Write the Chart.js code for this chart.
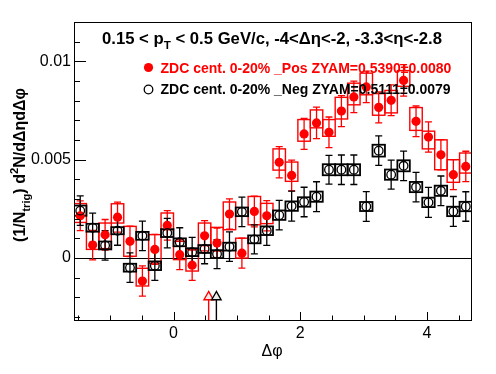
<!DOCTYPE html>
<html>
<head>
<meta charset="utf-8">
<script src="https://cdn.jsdelivr.net/npm/chart.js@4.4.1/dist/chart.umd.min.js"></script>
<style>
  html, body { margin: 0; padding: 0; background: #fff; }
  #wrap { width: 496px; height: 374px; }
</style>
</head>
<body>
<div id="wrap"><canvas id="chart" width="496" height="374"></canvas></div>
<script>
// Delta-phi correlation, 32 bins over [-pi/2, 3pi/2]
const binCenters = [
  -1.4726, -1.2763, -1.0799, -0.8836, -0.6872, -0.4909, -0.2945, -0.0982,
   0.0982,  0.2945,  0.4909,  0.6872,  0.8836,  1.0799,  1.2763,  1.4726,
   1.6690,  1.8653,  2.0617,  2.2580,  2.4544,  2.6507,  2.8471,  3.0434,
   3.2398,  3.4361,  3.6325,  3.8288,  4.0252,  4.2215,  4.4179,  4.6142
];
const binHalfWidth = 0.0982;

// ZDC cent. 0-20% _Pos (red, filled)
const posValues = [
  0.00215, 0.00066, 0.00118, 0.00208, 0.00085, -0.00117, 0.00044, 0.00166,
  0.00017, -0.00036, 0.00113, 0.00076, 0.00224, 0.00025, 0.00237, 0.00215,
  0.00487, 0.00420, 0.00631, 0.00687, 0.00639, 0.00747, 0.00819, 0.00870,
  0.00766, 0.00802, 0.00903, 0.00695, 0.00615, 0.00525, 0.00424, 0.00466
];
const posErr = [
  0.00076, 0.00075, 0.00078, 0.00076, 0.00077, 0.00077, 0.00076, 0.00075,
  0.00076, 0.00077, 0.00077, 0.00076, 0.00077, 0.00076, 0.00078, 0.00077,
  0.00079, 0.00078, 0.00079, 0.00080, 0.00078, 0.00079, 0.00080, 0.00080,
  0.00079, 0.00078, 0.00080, 0.00078, 0.00077, 0.00077, 0.00076, 0.00077
];
const posSysUp = [
  0.00062, 0.00070, 0.00060, 0.00068, 0.00076, 0.00065, 0.00075, 0.00063,
  0.00068, 0.00080, 0.00065, 0.00080, 0.00061, 0.00076, 0.00076, 0.00063,
  0.00068, 0.00068, 0.00073, 0.00066, 0.00065, 0.00070, 0.00070, 0.00070,
  0.00070, 0.00050, 0.00050, 0.00070, 0.00030, 0.00076, 0.00076, 0.00068
];
const posSysDown = [
  0.00034, 0.00022, 0.00070, 0.00030, 0.00076, 0.00025, 0.00070, 0.00022,
  0.00025, 0.00030, 0.00050, 0.00040, 0.00080, 0.00025, 0.00068, 0.00040,
  0.00040, 0.00030, 0.00037, 0.00025, 0.00020, 0.00040, 0.00040, 0.00040,
  0.00040, 0.00064, 0.00030, 0.00046, 0.00060, 0.00076, 0.00039, 0.00034
];

// ZDC cent. 0-20% _Neg (black, open)
const negValues = [
  0.00241, 0.00154, 0.00064, 0.00139, -0.00049, 0.00113, -0.00039, 0.00127,
  0.00080, 0.00030, 0.00046, 0.00020, 0.00058, 0.00235, 0.00095, 0.00139,
  0.00218, 0.00264, 0.00285, 0.00312, 0.00449, 0.00449, 0.00449, 0.00262,
  0.00546, 0.00424, 0.00469, 0.00361, 0.00283, 0.00342, 0.00237, 0.00262
];
const negErr = [
  0.00075, 0.00074, 0.00075, 0.00074, 0.00075, 0.00075, 0.00074, 0.00075,
  0.00074, 0.00075, 0.00075, 0.00074, 0.00075, 0.00075, 0.00074, 0.00075,
  0.00075, 0.00076, 0.00075, 0.00076, 0.00073, 0.00075, 0.00075, 0.00076,
  0.00075, 0.00074, 0.00075, 0.00075, 0.00076, 0.00075, 0.00076, 0.00075
];
const negSys = [
  0.00026, 0.00020, 0.00020, 0.00018, 0.00020, 0.00020, 0.00022, 0.00020,
  0.00020, 0.00020, 0.00020, 0.00020, 0.00020, 0.00022, 0.00020, 0.00022,
  0.00024, 0.00024, 0.00024, 0.00026, 0.00028, 0.00028, 0.00028, 0.00023,
  0.00030, 0.00026, 0.00028, 0.00026, 0.00024, 0.00026, 0.00024, 0.00024
];

// ZYAM minimum position markers
const zyamPosX = [0.555, 0.677];
const zyamColors = ['#ff0000', '#000000'];

// axis ticks
const xTickValues = [0, 2, 4];
const yTickValues = [0, 0.005, 0.01];
const yTickLabels = ['0', '0.005', '0.01'];

const titleParts = [['0.15 < p', ''], ['T', 'sub'], [' < 0.5 GeV/c, -4<\u0394\u03b7<-2, -3.3<\u03b7<-2.8', '']];
const legendLabels = [
  'ZDC cent. 0-20% _Pos ZYAM=0.5390\u00b10.0080',
  'ZDC cent. 0-20% _Neg ZYAM=0.5111\u00b10.0079'
];

const FONT = '"Liberation Sans", Arial, Helvetica, sans-serif';

function richWidth(ctx, parts, size, weight) {
  let w = 0;
  parts.forEach(([t, m]) => {
    ctx.font = `${weight} ${m ? size * 0.7 : size}px ${FONT}`;
    w += ctx.measureText(t).width;
  });
  return w;
}

function drawRich(ctx, parts, x, y, size, weight) {
  let cx = x;
  parts.forEach(([t, m]) => {
    ctx.font = `${weight} ${m ? size * 0.7 : size}px ${FONT}`;
    const dy = m === 'sub' ? size * 0.32 : (m === 'sup' ? -size * 0.42 : 0);
    ctx.fillText(t, cx, y + dy);
    cx += ctx.measureText(t).width;
  });
}

function drawSeriesDecor(ctx, xs, ys, vals, err, up, down, color, lw) {
  ctx.save();
  ctx.strokeStyle = color;
  ctx.lineWidth = lw;
  // systematic boxes
  vals.forEach((v, i) => {
    const x0 = xs.getPixelForValue(binCenters[i] - binHalfWidth);
    const x1 = xs.getPixelForValue(binCenters[i] + binHalfWidth);
    const yt = ys.getPixelForValue(v + up[i]);
    const yb = ys.getPixelForValue(v - down[i]);
    ctx.strokeRect(x0, yt, x1 - x0, yb - yt);
  });
  // statistical error bars with end caps
  ctx.lineWidth = 1.3;
  vals.forEach((v, i) => {
    const x = xs.getPixelForValue(binCenters[i]);
    const yt = ys.getPixelForValue(v + err[i]);
    const yb = ys.getPixelForValue(v - err[i]);
    ctx.beginPath();
    ctx.moveTo(x, yt); ctx.lineTo(x, yb);
    ctx.moveTo(x - 3.5, yt); ctx.lineTo(x + 3.5, yt);
    ctx.moveTo(x - 3.5, yb); ctx.lineTo(x + 3.5, yb);
    ctx.stroke();
  });
  ctx.restore();
}

const rootDecor = {
  id: 'rootDecor',
  beforeDatasetsDraw(chart) {
    const { ctx, chartArea: a, scales: { x, y } } = chart;
    ctx.save();
    ctx.beginPath();
    ctx.rect(a.left, a.top, a.right - a.left, a.bottom - a.top);
    ctx.clip();
    // zero line
    const y0 = Math.round(y.getPixelForValue(0)) + 0.5;
    ctx.strokeStyle = '#000';
    ctx.lineWidth = 1;
    ctx.beginPath();
    ctx.moveTo(a.left, y0); ctx.lineTo(a.right, y0);
    ctx.stroke();
    drawSeriesDecor(ctx, x, y, posValues, posErr, posSysUp, posSysDown, '#ff0000', 1.4);
    drawSeriesDecor(ctx, x, y, negValues, negErr, negSys, negSys, '#000000', 1.8);
    ctx.restore();
  },
  afterDatasetsDraw(chart) {
    const { ctx, chartArea: a, scales: { x, y } } = chart;
    ctx.save();
    // ZYAM arrows
    zyamPosX.forEach((v, i) => {
      const px = x.getPixelForValue(v);
      const apex = y.getPixelForValue(-0.0017);
      const base = y.getPixelForValue(-0.00212);
      ctx.strokeStyle = zyamColors[i];
      ctx.lineWidth = 1.4;
      ctx.beginPath();
      ctx.moveTo(px, base); ctx.lineTo(px, a.bottom);
      ctx.stroke();
      ctx.beginPath();
      ctx.moveTo(px, apex);
      ctx.lineTo(px - 4.7, base);
      ctx.lineTo(px + 4.7, base);
      ctx.closePath();
      ctx.fillStyle = '#ececec';
      ctx.fill();
      ctx.stroke();
    });

    // frame
    ctx.strokeStyle = '#000';
    ctx.lineWidth = 1;
    ctx.strokeRect(a.left + 0.5, a.top + 0.5, a.right - a.left - 1, a.bottom - a.top - 1);

    // ticks (inside, ROOT style)
    ctx.beginPath();
    for (let k = -3; k <= 12; k++) {
      const py = Math.round(y.getPixelForValue(k * 0.001)) + 0.5;
      const len = (k % 5 === 0) ? 12 : 6;
      ctx.moveTo(a.left, py); ctx.lineTo(a.left + len, py);
    }
    for (let k = -3; k <= 9; k++) {
      const px = Math.round(x.getPixelForValue(k * 0.5)) + 0.5;
      const len = (k % 4 === 0) ? 9 : 5.5;
      ctx.moveTo(px, a.bottom); ctx.lineTo(px, a.bottom - len);
    }
    ctx.stroke();

    // title
    ctx.fillStyle = '#000';
    ctx.textAlign = 'left';
    ctx.textBaseline = 'alphabetic';
    const tw = richWidth(ctx, titleParts, 16.7, 'bold');
    drawRich(ctx, titleParts, 272 - tw / 2, 43.5, 16.7, 'bold');

    // legend
    ctx.font = `bold 14px ${FONT}`;
    ctx.fillStyle = '#ff0000';
    ctx.beginPath();
    ctx.arc(148.5, 67.5, 4.6, 0, Math.PI * 2);
    ctx.fill();
    ctx.fillText(legendLabels[0], 160.5, 72.5);
    ctx.fillStyle = '#000';
    ctx.strokeStyle = '#000';
    ctx.lineWidth = 1.3;
    ctx.beginPath();
    ctx.arc(148.5, 89.5, 4.3, 0, Math.PI * 2);
    ctx.stroke();
    ctx.fillText(legendLabels[1], 160.5, 94);

    // x title
    ctx.font = `16px ${FONT}`;
    ctx.textAlign = 'center';
    ctx.fillText('\u0394\u03c6', 272, 356);

    // y title
    const yParts = [['(1/N', ''], ['trig', 'sub'], [') d', ''], ['2', 'sup'], ['N/d\u0394\u03b7d\u0394\u03c6', '']];
    ctx.save();
    ctx.translate(25, 165);
    ctx.rotate(-Math.PI / 2);
    ctx.textAlign = 'left';
    const yw = richWidth(ctx, yParts, 16, 'bold');
    drawRich(ctx, yParts, -yw / 2, 0, 16, 'bold');
    ctx.restore();

    ctx.restore();
  }
};

new Chart(document.getElementById('chart'), {
  type: 'scatter',
  plugins: [rootDecor],
  data: {
    datasets: [
      {
        label: 'Pos',
        data: binCenters.map((c, i) => ({ x: c, y: posValues[i] })),
        pointRadius: 4.6,
        pointBackgroundColor: '#ff0000',
        pointBorderWidth: 0,
        order: 2
      },
      {
        label: 'Neg',
        data: binCenters.map((c, i) => ({ x: c, y: negValues[i] })),
        pointRadius: 4.3,
        pointBackgroundColor: 'rgba(0,0,0,0)',
        pointBorderColor: '#000',
        pointBorderWidth: 1.3,
        order: 1
      }
    ]
  },
  options: {
    responsive: false,
    animation: false,
    events: [],
    layout: { padding: { left: 0, right: 24, top: 22, bottom: 0 } },
    plugins: { legend: { display: false }, tooltip: { enabled: false } },
    scales: {
      x: {
        type: 'linear',
        min: -Math.PI / 2,
        max: 3 * Math.PI / 2,
        grid: { display: false, drawTicks: false },
        border: { display: false },
        afterBuildTicks: s => { s.ticks = xTickValues.map(v => ({ value: v })); },
        afterFit: s => { s.height = 53; },
        ticks: {
          color: '#000',
          font: { family: FONT, size: 16 },
          padding: 3,
          maxRotation: 0,
          callback: v => String(v)
        }
      },
      y: {
        min: -0.0032,
        max: 0.0120,
        grid: { display: false, drawTicks: false },
        border: { display: false },
        afterBuildTicks: s => { s.ticks = yTickValues.map(v => ({ value: v })); },
        afterFit: s => { s.width = 74; },
        ticks: {
          color: '#000',
          font: { family: FONT, size: 16 },
          padding: 3,
          callback: (v, i) => yTickLabels[i]
        }
      }
    }
  }
});
</script>
</body>
</html>
